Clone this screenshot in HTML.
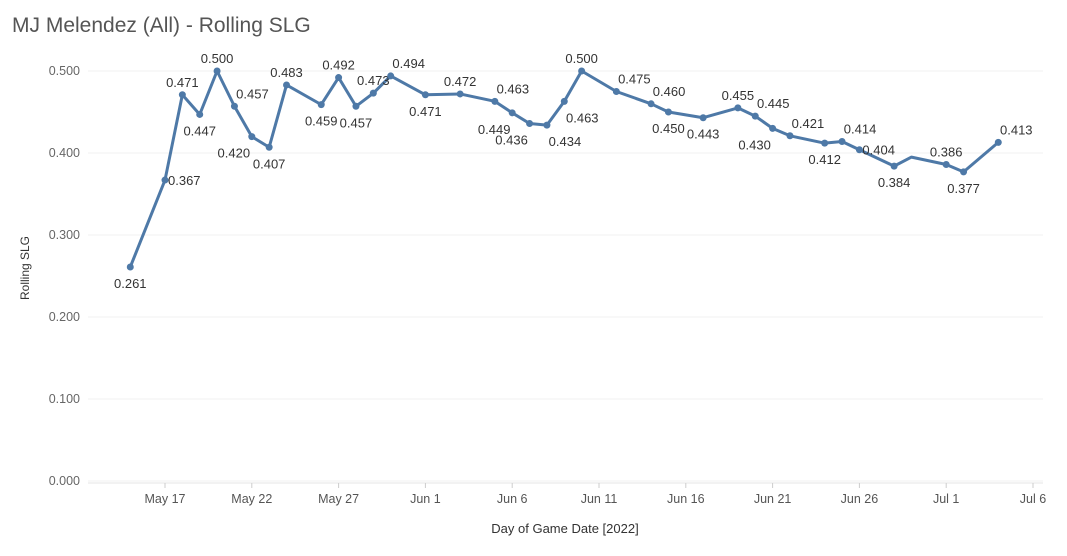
<!DOCTYPE html>
<html><head><meta charset="utf-8"><style>
body{margin:0;background:#fff;font-family:"Liberation Sans",sans-serif}
svg text{font-family:"Liberation Sans",sans-serif}
</style></head><body>
<svg width="1067" height="551">
<text x="12" y="32" font-size="21" fill="#555">MJ Melendez (All) - Rolling SLG</text>
<g id="grid"></g><g id="axes"></g><g id="series"></g>
<text x="565" y="533" font-size="13" fill="#333" text-anchor="middle">Day of Game Date [2022]</text>
<text transform="translate(29,268) rotate(-90)" font-size="12" fill="#333" text-anchor="middle">Rolling SLG</text>
</svg>
<script>
// days relative to May 17, 2022
const days = [-2,0,1,2,3,4,5,6,7,9,10,11,12,13,15,17,19,20,21,22,23,24,26,28,29,31,33,34,35,36,38,39,40,42,43,45,46,48];
const slg = [0.261,0.367,0.471,0.447,0.500,0.457,0.420,0.407,0.483,0.459,0.492,0.457,0.473,0.494,0.471,0.472,0.463,0.449,0.436,0.434,0.463,0.500,0.475,0.460,0.450,0.443,0.455,0.445,0.430,0.421,0.412,0.414,0.404,0.384,0.395,0.386,0.377,0.413];
const labelSide = ['b','r','a','b','a','ar','bl','b','a','b','a','b','a','ar','b','a','ar','bl','bl','br','br','a','ar','ar','b','b','a','ar','bl','ar','b','ar','r','b','n','a','b','ar'];
const yTicks = [0,0.1,0.2,0.3,0.4,0.5];
const xTickDays = [0,5,10,15,20,25,30,35,40,45,50];
const xTickLabels = ['May 17','May 22','May 27','Jun 1','Jun 6','Jun 11','Jun 16','Jun 21','Jun 26','Jul 1','Jul 6'];
const X0=165, PX=17.36, Y0=481, PY=820;
const xs=d=>X0+d*PX, ys=v=>Y0-v*PY;
const NS='http://www.w3.org/2000/svg';
function mk(tag,attrs,parent){const e=document.createElementNS(NS,tag);for(const k in attrs)e.setAttribute(k,attrs[k]);parent.appendChild(e);return e;}
const grid=document.getElementById('grid'),axes=document.getElementById('axes'),ser=document.getElementById('series');
yTicks.forEach(t=>{
  const l=mk('line',{x1:88,x2:1043,y1:ys(t),y2:ys(t),stroke:'#f0f0f0','stroke-width':1},grid);
  
  
  const tx=mk('text',{x:80,y:ys(t)+4,'font-size':12.5,fill:'#666','text-anchor':'end'},axes);
  tx.textContent=t.toFixed(3);
  
  
});
mk('line',{x1:88,x2:1043,y1:483,y2:483,stroke:'#e6e6e6'},axes);
xTickDays.forEach((d,i)=>{
  const tk=mk('line',{x1:xs(d),x2:xs(d),y1:483,y2:488,stroke:'#ccc'},axes);
  
  
  const tx=mk('text',{x:xs(d),y:503,'font-size':12.5,fill:'#555','text-anchor':'middle'},axes);
  tx.textContent=xTickLabels[i];
  
  
});
const pts=days.map((d,i)=>xs(d)+','+ys(slg[i])).join(' ');
const pl=mk('polyline',{points:pts,fill:'none',stroke:'#4e79a7','stroke-width':3,'stroke-linejoin':'round'},ser);


days.forEach((d,i)=>{
  const s=labelSide[i]; if(s==='n')return;
  const x=xs(d),y=ys(slg[i]);
  const c=mk('circle',{cx:x,cy:y,r:3.5,fill:'#4e79a7'},ser);
  
  
  let lx=x,ly=y-8,anc='middle';
  if(s[0]==='b'){ly=y+21;}
  if(s[1]==='r')lx=x+18;
  if(s[1]==='l')lx=x-18;
  if(s==='r'){lx=x+3;ly=y+5;anc='start';}
  const t=mk('text',{x:lx,y:ly,'font-size':13,fill:'#333','text-anchor':anc},ser);
  t.textContent=slg[i].toFixed(3);
  
  
});
</script>
</body></html>
